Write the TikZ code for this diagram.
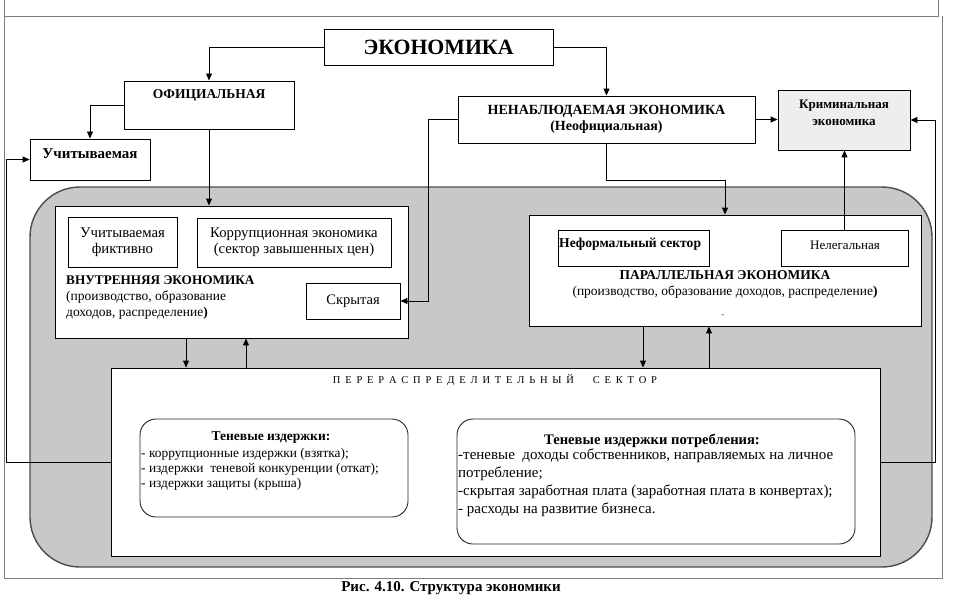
\documentclass[tikz,border=0pt]{standalone}
\usepackage{fontspec}
\setmainfont{Liberation Serif}
\usetikzlibrary{arrows.meta}
\definecolor{shadegray}{RGB}{200,200,200}
\definecolor{krimgray}{RGB}{238,238,238}
\definecolor{framegray}{RGB}{125,125,125}
\newcommand{\fs}[1]{\fontsize{#1}{1.2\dimexpr#1pt\relax}\selectfont}

\begin{document}
\begin{tikzpicture}[x=1pt,y=-1pt,
	box/.style={draw, line width=0.9pt, fill=white, inner sep=0pt},
	rbox/.style={draw, black!85, line width=0.9pt, fill=white, rounded corners=16pt, inner sep=0pt},
	arr/.style={line width=0.9pt, -{Triangle[length=7pt,width=6pt]}}]
	\useasboundingbox (0,0) rectangle (953,599);
	% frame of the table cell
	\draw[framegray, line width=0.8pt] (4,0) -- (4,578) -- (942,578) -- (942,16);
	\draw[framegray, line width=0.8pt] (4,16) -- (938,16) -- (938,0);
	% grey field
	\draw[fill=shadegray, draw=black!70, line width=1.4pt, rounded corners=50pt] (30,187) rectangle (932,567);
	% top level
	\node[box, minimum width=229, minimum height=36, font=\bfseries\fs{21.8}] (econ) at (438.5,47) {ЭКОНОМИКА};
	\node[box, minimum width=170, minimum height=48] (ofic) at (209,105) {};
	\node[font=\bfseries\fs{13.5}] (ofict) at (209,95) {ОФИЦИАЛЬНАЯ};
	\node[box, minimum width=120, minimum height=41] (uchit) at (90,159.5) {};
	\node[font=\bfseries\fs{15}] (uchitt) at (90,154) {Учитываемая};
	\node[box, minimum width=297, minimum height=47, align=center, font=\bfseries\fontsize{14}{16.5}\selectfont] (nenab) at (606.5,119.5) {НЕНАБЛЮДАЕМАЯ ЭКОНОМИКА\\(Неофициальная)};
	\node[box, fill=krimgray, minimum width=132, minimum height=60] (krim) at (844,120) {};
	\node[align=center, font=\bfseries\fontsize{13}{17}\selectfont] (krimt) at (844,112.5) {Криминальная\\экономика};
	% inner economy
	\node[box, minimum width=353, minimum height=132] (vnutr) at (231.5,272) {};
	\node[box, minimum width=109, minimum height=50, align=center, font=\fontsize{14.8}{15.5}\selectfont] (fikt) at (122.5,242) {Учитываемая\\фиктивно};
	\node[box, minimum width=194, minimum height=49, align=center, font=\fontsize{14.7}{16}\selectfont] (korr) at (294,242.5) {Коррупционная экономика\\(сектор завышенных цен)};
	\node[box, minimum width=94, minimum height=36, font=\fs{14.5}] (skryt) at (353,301) {Скрытая};
	\node[anchor=north west, align=left, inner sep=0pt, font=\fontsize{13.5}{16}\selectfont] (vnutrt) at (66,276) {{\fontsize{13.2}{16}\selectfont\bfseries ВНУТРЕННЯЯ ЭКОНОМИКА}\\(производство, образование\\доходов, распределение\textbf{)}};
	% parallel economy
	\node[box, minimum width=392, minimum height=111] (parall) at (725,270.5) {};
	\node[box, minimum width=151, minimum height=36] (neform) at (633.5,248) {};
	\node[anchor=west, inner sep=0pt, font=\bfseries\fs{13.6}] (neformt) at (559,244) {Неформальный сектор};
	\node[box, minimum width=127, minimum height=36] (neleg) at (844.5,248) {};
	\node[font=\fs{13}] (neleg-t) at (845,245) {Нелегальная};
	\node[anchor=north, align=center, inner sep=0pt, font=\fs{13.5}] (parallt) at (725,270) {\textbf{ПАРАЛЛЕЛЬНАЯ ЭКОНОМИКА}\\(производство, образование доходов, распределение\textbf{)}};
	\node[font=\fs{10}] (tick) at (723,318) {\textasciigrave};
	% redistribution sector
	\node[box, minimum width=769, minimum height=188] (redist) at (495.5,462) {};
	\node[font=\fs{10.5}] (redistt) at (495,380) {\spaceskip=4.8pt П Е Р Е Р А С П Р Е Д Е Л И Т Е Л Ь Н Ы Й\hspace{14pt} С Е К Т О Р};
	\node[rbox, minimum width=268, minimum height=98] (tenl) at (274,468) {};
	\node[font=\bfseries\fs{13.5}] (tenlt) at (271,438) {Теневые издержки:};
	\node[anchor=north west, align=left, inner sep=0pt, font=\fontsize{13.4}{15}\selectfont] (tenlb) at (141,448) {- коррупционные издержки (взятка);\\- издержки \ теневой конкуренции (откат);\\- издержки защиты (крыша)};
	\node[rbox, minimum width=398, minimum height=125] (tenr) at (656,481.5) {};
	\node[font=\bfseries\fs{14.6}] (tenrt) at (652,441) {Теневые издержки потребления:};
	\node[anchor=north west, align=left, inner sep=0pt, font=\fontsize{15}{17.8}\selectfont] (tenrb) at (458,449) {-теневые \ доходы собственников, направляемых на личное\\потребление;\\-скрытая заработная плата (заработная плата в конвертах);\\- расходы на развитие бизнеса.};
	% caption
	\node[font=\bfseries\fs{15}] (capt) at (451,588) {Рис. 4.10. Структура экономики};
	% connectors
	\draw[arr] (econ.west) -| (ofic.north);
	\draw[arr] (econ.east) -| (nenab.north);
	\draw[arr] (ofic.west) -| (uchit.north);
	\draw[arr] (ofic.south) -- (ofic.south |- vnutr.north);
	\draw[arr] (nenab.west) -- ++(-29,0) |- (skryt.east);
	\draw[arr] (nenab.east) -- (nenab.east -| krim.west);
	\draw[arr] (nenab.south) -- ++(0,37) -| (parall.north);
	\draw[arr] (neleg.north) -- (neleg.north |- krim.south);
	\draw[arr] (redist.west) -- ++(-104,0) |- (uchit.west);
	\draw[arr] (redist.east) -- ++(55,0) |- (krim.east);
	\draw[arr] ([xshift=-45.5pt]vnutr.south) -- ([xshift=-45.5pt]vnutr.south |- redist.north);
	\draw[arr] ([xshift=14.5pt]vnutr.south |- redist.north) -- ([xshift=14.5pt]vnutr.south);
	\draw[arr] ([xshift=-82pt]parall.south) -- ([xshift=-82pt]parall.south |- redist.north);
	\draw[arr] ([xshift=-16pt]parall.south |- redist.north) -- ([xshift=-16pt]parall.south);
\end{tikzpicture}
\end{document}
